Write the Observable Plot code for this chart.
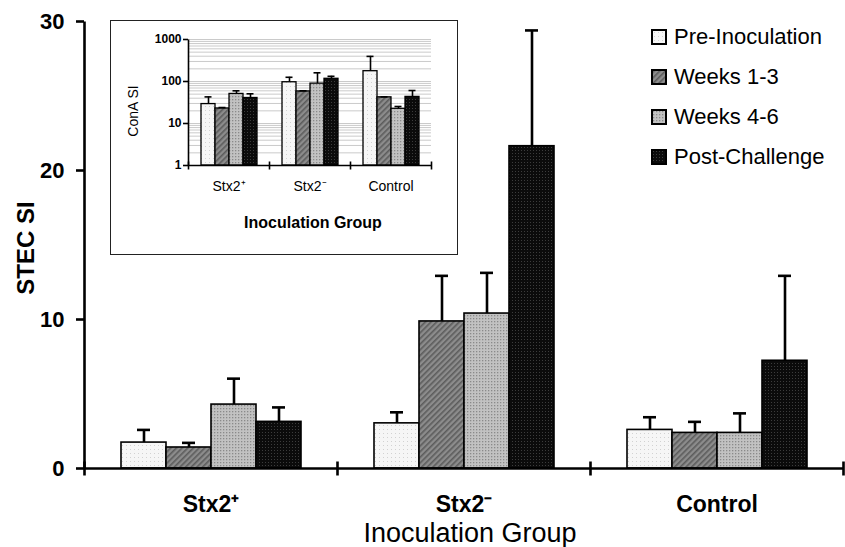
<!DOCTYPE html>
<html><head><meta charset="utf-8">
<script src="https://cdn.jsdelivr.net/npm/d3@7"></script>
<script src="https://cdn.jsdelivr.net/npm/@observablehq/plot@0.6"></script>
<style>
body{margin:0;background:#fff;font-family:"Liberation Sans",Arial,sans-serif;color:#000;}
#wrap{position:relative;width:845px;height:547px;overflow:hidden;background:#fff;}
#main{position:absolute;left:0;top:0;}
#inset{position:absolute;left:110px;top:20px;width:348px;height:235px;box-sizing:border-box;border:1.5px solid #222;background:#fff;}
#inset .plot{position:absolute;left:0;top:0;}
.ylab{position:absolute;font-weight:bold;white-space:nowrap;transform:translate(-50%,-50%) rotate(-90deg);}
.xlab{position:absolute;white-space:nowrap;transform:translate(-50%,-50%);}
#legend{position:absolute;left:651px;top:17px;}
#legend .row{display:flex;align-items:center;height:40px;font-size:22px;}
#legend .sw{width:12px;height:12px;border:2px solid #000;margin-right:7px;}
#legend .sw svg{display:block;}
</style></head><body>
<svg width="0" height="0" style="position:absolute">
<defs>
<pattern id="p-pre" width="4" height="4" patternUnits="userSpaceOnUse"><rect width="4" height="4" fill="#f6f6f6"/><rect x="1" y="1" width="1" height="1" fill="#d2d2d2"/></pattern>
<pattern id="p-w13" width="4" height="4" patternUnits="userSpaceOnUse" patternTransform="rotate(45)"><rect width="4" height="4" fill="#8c8c8c"/><rect width="1.6" height="4" fill="#5c5c5c"/></pattern>
<pattern id="p-w46" width="3" height="3" patternUnits="userSpaceOnUse"><rect width="3" height="3" fill="#c2c2c2"/><rect width="1.3" height="1.3" fill="#8a8a8a"/></pattern>
<pattern id="p-post" width="3" height="3" patternUnits="userSpaceOnUse"><rect width="3" height="3" fill="#0b0b0b"/><rect width="1" height="1" fill="#3c3c3c"/></pattern>
</defs></svg>
<div id="wrap">
  <div id="main"></div>
  <div class="ylab" style="left:26px;top:248px;font-size:24px;">STEC SI</div>
  <div class="xlab" style="left:470px;top:533px;font-size:27px;">Inoculation Group</div>
  <div id="inset">
    <div class="ylab" style="left:22px;top:90px;font-size:14px;font-weight:normal;">ConA SI</div>
    <div class="xlab" style="left:202px;top:202px;font-size:16px;font-weight:bold;">Inoculation Group</div>
  </div>
  <div id="legend"></div>
</div>
<script>
// ---- data ----
const groups = ["Stx2+", "Stx2-", "Control"];
const groupLabels = ["Stx2\u207A", "Stx2\u207B", "Control"];
const periods = ["Pre-Inoculation", "Weeks 1-3", "Weeks 4-6", "Post-Challenge"];
// main chart: STEC SI means and upper error-bar ends, per group (rows) and period (columns)
const stecMean  = [[1.74, 1.41, 4.29, 3.13], [3.03, 9.87, 10.4, 21.63], [2.59, 2.39, 2.39, 7.23]];
const stecUpper = [[2.59, 1.72, 6.03, 4.10], [3.77, 12.93, 13.13, 29.4], [3.44, 3.13, 3.70, 12.93]];
const stecTicks = [0, 10, 20, 30];
// inset: ConA SI (log scale)
const conaMean  = [[29, 22.8, 50.6, 40.5], [96, 58, 89, 116], [176, 42, 22.4, 43]];
const conaUpper = [[43, 24, 60, 51], [126, 60, 161, 133], [396, 43, 25.4, 61]];
const conaTicks = [1, 10, 100, 1000];

const fills = ["url(#p-pre)", "url(#p-w13)", "url(#p-w46)", "url(#p-post)"];
const font = '"Liberation Sans", Arial, sans-serif';
const vline = {draw(ctx, size) { const r = Math.sqrt(size / Math.PI); ctx.moveTo(0, -r); ctx.lineTo(0, r); }};
const lab = d => groupLabels[groups.indexOf(d)];

function rows(mean, upper) {
  return groups.flatMap((g, i) => periods.map((p, j) => ({group: g, period: p, value: mean[i][j], upper: upper[i][j]})));
}
const mainData = rows(stecMean, stecUpper);
const insetData = rows(conaMean, conaUpper);

// ---- main chart ----
const mH = 547, mT = 21, mB = 79;
const main = Plot.plot({
  width: 845, height: mH, marginLeft: 83, marginRight: 2, marginTop: mT, marginBottom: mB,
  style: {fontFamily: font, color: "#000", background: "transparent", overflow: "visible"},
  fx: {domain: groups, padding: 0, label: null},
  x: {domain: periods, paddingInner: 0, paddingOuter: 0.76, axis: null},
  y: {domain: [0, 30], label: null},
  color: {domain: periods, range: fills},
  marks: [
    Plot.barY(mainData, {fx: "group", x: "period", y: "value", fill: "period", stroke: "#000", strokeWidth: 1.6}),
    Plot.ruleX(mainData, {fx: "group", x: "period", y1: "value", y2: "upper", stroke: "#000", strokeWidth: 2.6}),
    Plot.tickY(mainData, {fx: "group", x: "period", y: "upper", insetLeft: 16, insetRight: 16, stroke: "#000", strokeWidth: 2.6}),
    Plot.ruleY([0], {stroke: "#000", strokeWidth: 2.6}),
    Plot.dot([groups[0]], {fx: d => d, frameAnchor: "left", symbol: vline, r: (mH - mT - mB) / 2, stroke: "#000", strokeWidth: 2.6, fill: "none"}),
    Plot.dot(groups, {fx: d => d, frameAnchor: "bottom-left", symbol: vline, r: 7, stroke: "#000", strokeWidth: 2.6, fill: "none"}),
    Plot.dot([groups[2]], {fx: d => d, frameAnchor: "bottom-right", symbol: vline, r: 7, stroke: "#000", strokeWidth: 2.6, fill: "none"}),
    Plot.axisY({ticks: stecTicks, tickSize: 8, tickPadding: 12, strokeWidth: 2.6, fontSize: 22, fontWeight: "bold", label: null}),
    Plot.axisFx({anchor: "bottom", tickSize: 0, tickPadding: 27, fontSize: 23, fontWeight: "bold", tickFormat: lab, label: null})
  ]
});
document.getElementById("main").appendChild(main);

// ---- inset chart ----
const iH = 232, iT = 18, iB = 88;
const inset = Plot.plot({
  width: 345, height: iH, marginLeft: 76, marginRight: 25, marginTop: iT, marginBottom: iB,
  style: {fontFamily: font, color: "#000", background: "transparent", overflow: "visible"},
  fx: {domain: groups, padding: 0, label: null},
  x: {domain: periods, paddingInner: 0, paddingOuter: 0.75, axis: null},
  y: {type: "log", domain: [1, 1000], label: null},
  color: {domain: periods, range: fills},
  marks: [
    Plot.gridY({ticks: 40, stroke: "#bdbdbd", strokeOpacity: 1, strokeWidth: 0.8}),
    Plot.barY(insetData, {fx: "group", x: "period", y1: 1, y2: "value", fill: "period", stroke: "#000", strokeWidth: 1.3}),
    Plot.ruleX(insetData, {fx: "group", x: "period", y1: "value", y2: "upper", stroke: "#000", strokeWidth: 1.6}),
    Plot.tickY(insetData, {fx: "group", x: "period", y: "upper", insetLeft: 3.5, insetRight: 3.5, stroke: "#000", strokeWidth: 1.6}),
    Plot.ruleY([1], {stroke: "#000", strokeWidth: 1.6}),
    Plot.dot([groups[0]], {fx: d => d, frameAnchor: "left", symbol: vline, r: (iH - iT - iB) / 2, stroke: "#000", strokeWidth: 1.6, fill: "none"}),
    Plot.dot(groups, {fx: d => d, frameAnchor: "bottom-left", symbol: vline, r: 4, stroke: "#000", strokeWidth: 1.6, fill: "none"}),
    Plot.dot([groups[2]], {fx: d => d, frameAnchor: "bottom-right", symbol: vline, r: 4, stroke: "#000", strokeWidth: 1.6, fill: "none"}),
    Plot.axisY({ticks: conaTicks, tickFormat: d => String(d), tickSize: 5, tickPadding: 2, strokeWidth: 1.6, fontSize: 12, fontWeight: "bold", label: null}),
    Plot.axisFx({anchor: "bottom", tickSize: 0, tickPadding: 16, fontSize: 14, tickFormat: lab, label: null})
  ]
});
inset.classList.add("plot");
document.getElementById("inset").prepend(inset);

// ---- legend ----
const legend = d3.select("#legend");
periods.forEach((p, i) => {
  const row = legend.append("div").attr("class", "row");
  row.append("div").attr("class", "sw")
    .append("svg").attr("width", 12).attr("height", 12)
    .append("rect").attr("width", 12).attr("height", 12).attr("fill", fills[i]);
  row.append("span").text(p);
});
</script>
</body></html>
